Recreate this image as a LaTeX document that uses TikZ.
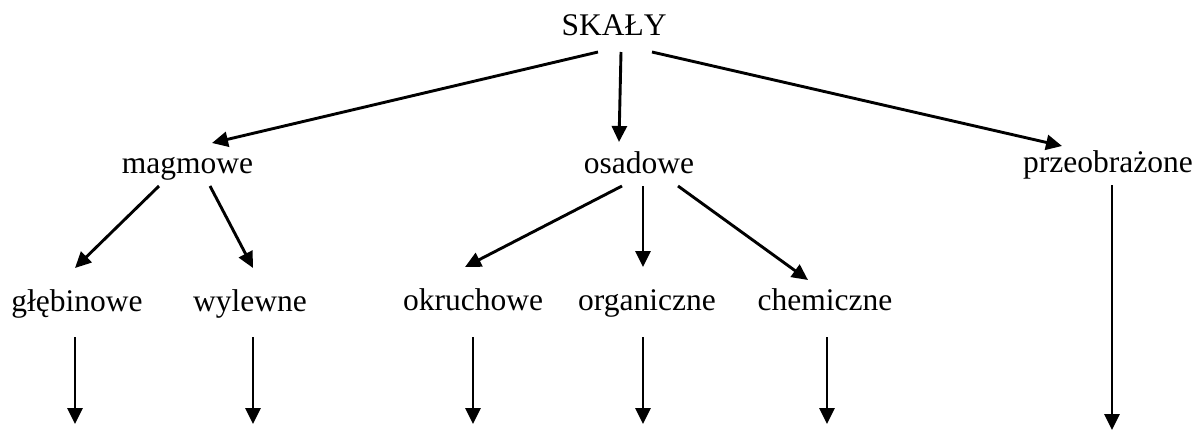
\documentclass[tikz,border=0pt]{standalone}
\usepackage{fontspec}
\setmainfont{Liberation Serif}
\usetikzlibrary{arrows.meta}
\begin{document}
\begin{tikzpicture}[x=1pt,y=-1pt,
  lbl/.style={anchor=base,inner sep=0pt,font=\fontsize{31.5}{37}\selectfont},
  arr/.style={line width=2.9pt,-{Triangle[length=16pt,width=15pt]}}]
\useasboundingbox (0,0) rectangle (1198,432);
% nodes
\node[lbl] (skaly) at (614,35) {SKAŁY};
\node[lbl] (magmowe) at (187.5,173) {magmowe};
\node[lbl] (osadowe) at (639,173) {osadowe};
\node[lbl] (przeobrazone) at (1108,172) {przeobrażone};
\node[lbl] (glebinowe) at (77,311) {głębinowe};
\node[lbl] (wylewne) at (250,311) {wylewne};
\node[lbl] (okruchowe) at (473,310) {okruchowe};
\node[lbl] (organiczne) at (647,310) {organiczne};
\node[lbl] (chemiczne) at (825,310) {chemiczne};
% connector end points
\coordinate (skaly-l) at (598,52);
\coordinate (skaly-m) at (621,52);
\coordinate (skaly-r) at (652,52);
\coordinate (magmowe-in) at (212,143);
\coordinate (osadowe-in) at (619,142);
\coordinate (przeobrazone-in) at (1062,146);
\coordinate (magmowe-l) at (159,186);
\coordinate (magmowe-r) at (210,186);
\coordinate (glebinowe-in) at (75,268);
\coordinate (wylewne-in) at (253,268);
\coordinate (osadowe-l) at (622,186);
\coordinate (osadowe-m) at (643,186);
\coordinate (osadowe-r) at (678,186);
\coordinate (okruchowe-in) at (465,267);
\coordinate (organiczne-in) at (643,267);
\coordinate (chemiczne-in) at (808,280);
\coordinate (glebinowe-out) at (75,337);
\coordinate (wylewne-out) at (253,337);
\coordinate (okruchowe-out) at (473,337);
\coordinate (organiczne-out) at (643,337);
\coordinate (chemiczne-out) at (827,337);
\coordinate (przeobrazone-out) at (1112,185);
\coordinate (glebinowe-end) at (75,424);
\coordinate (wylewne-end) at (253,424);
\coordinate (okruchowe-end) at (473,424);
\coordinate (organiczne-end) at (643,424);
\coordinate (chemiczne-end) at (827,424);
\coordinate (przeobrazone-end) at (1112,430);
% connectors
\draw[arr] (skaly-l) -- (magmowe-in);
\draw[arr] (skaly-m) -- (osadowe-in);
\draw[arr] (skaly-r) -- (przeobrazone-in);
\draw[arr] (magmowe-l) -- (glebinowe-in);
\draw[arr] (magmowe-r) -- (wylewne-in);
\draw[arr] (osadowe-l) -- (okruchowe-in);
\draw[arr] (osadowe-m) -- (organiczne-in);
\draw[arr] (osadowe-r) -- (chemiczne-in);
\draw[arr] (glebinowe-out) -- (glebinowe-end);
\draw[arr] (wylewne-out) -- (wylewne-end);
\draw[arr] (okruchowe-out) -- (okruchowe-end);
\draw[arr] (organiczne-out) -- (organiczne-end);
\draw[arr] (chemiczne-out) -- (chemiczne-end);
\draw[arr] (przeobrazone-out) -- (przeobrazone-end);
\end{tikzpicture}
\end{document}
